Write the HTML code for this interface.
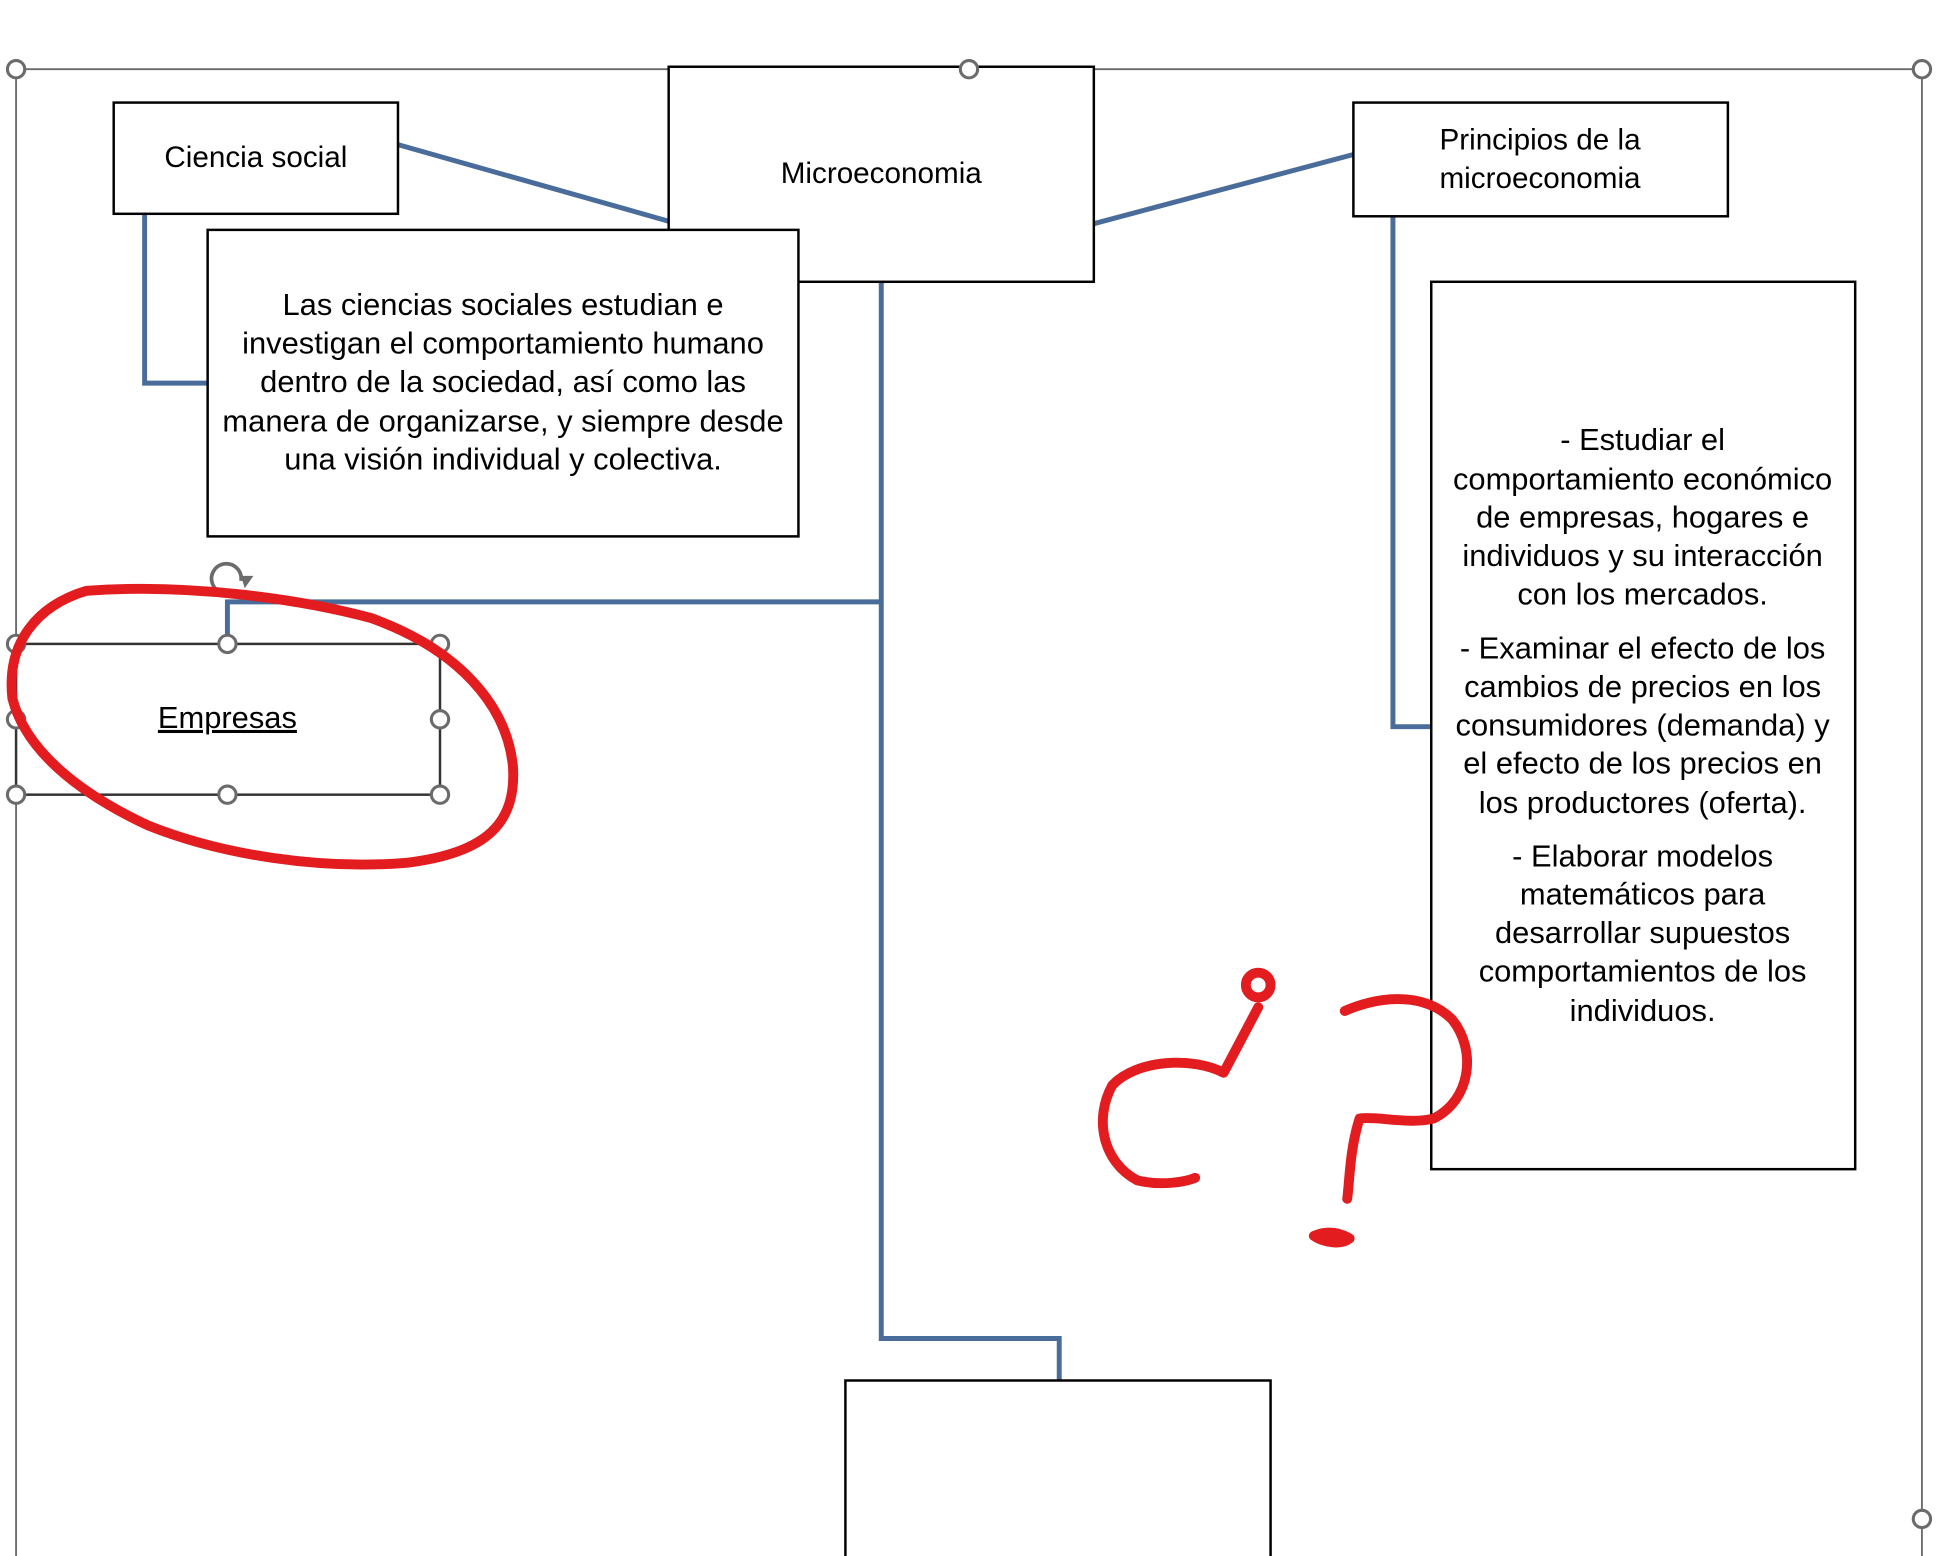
<!DOCTYPE html>
<html><head><meta charset="utf-8"><style>
html,body{margin:0;padding:0;background:#fff;}
svg{display:block;}
text{font-family:"Liberation Sans",sans-serif;font-size:25px;fill:#000;}
text.t{font-size:24px;}
</style></head><body>
<svg width="1938" height="1556" viewBox="0 0 1568 1259" preserveAspectRatio="none" xmlns="http://www.w3.org/2000/svg">
<rect width="1568" height="1259" fill="#fff"/>
<g stroke="#6b6b6b" stroke-width="1.5" fill="none">
<line x1="13" y1="56" x2="1555" y2="56"/>
<line x1="13" y1="56" x2="13" y2="1259"/>
<line x1="1555" y1="56" x2="1555" y2="1259"/>
</g>
<g stroke="#4a6c9b" stroke-width="4" fill="none">
<line x1="322" y1="117" x2="541" y2="179"/>
<line x1="885" y1="181" x2="1095" y2="125"/>
<polyline points="117,173 117,310 168,310"/>
<polyline points="713,228 713,1083 857,1083 857,1117"/>
<polyline points="184,521 184,487 713,487"/>
<polyline points="1127,175 1127,588 1158,588"/>
</g>
<g fill="#fff" stroke="#000" stroke-width="2">
<rect x="92" y="83" width="230" height="90"/>
<rect x="541" y="54" width="344" height="174"/>
<rect x="1095" y="83" width="303" height="92"/>
<rect x="168" y="186" width="478" height="248"/>
<rect x="1158" y="228" width="343" height="718"/>
<rect x="684" y="1117" width="344" height="150"/>
<rect x="13" y="521" width="343" height="122" stroke="#333"/>
</g>
<g text-anchor="middle">
<text class="t" x="207" y="135">Ciencia social</text>
<text class="t" x="713" y="148">Microeconomia</text>
<text class="t" x="1246" y="121">Principios de la</text>
<text class="t" x="1246" y="152">microeconomia</text>
<text x="407" y="255">Las ciencias sociales estudian e</text>
<text x="407" y="286">investigan el comportamiento humano</text>
<text x="407" y="317">dentro de la sociedad, así como las</text>
<text x="407" y="349">manera de organizarse, y siempre desde</text>
<text x="407" y="380">una visión individual y colectiva.</text>
<text x="1329" y="364">- Estudiar el</text>
<text x="1329" y="396">comportamiento económico</text>
<text x="1329" y="427">de empresas, hogares e</text>
<text x="1329" y="458">individuos y su interacción</text>
<text x="1329" y="489">con los mercados.</text>
<text x="1329" y="533">- Examinar el efecto de los</text>
<text x="1329" y="564">cambios de precios en los</text>
<text x="1329" y="595">consumidores (demanda) y</text>
<text x="1329" y="626">el efecto de los precios en</text>
<text x="1329" y="658">los productores (oferta).</text>
<text x="1329" y="701">-  Elaborar modelos</text>
<text x="1329" y="732">matemáticos para</text>
<text x="1329" y="763">desarrollar supuestos</text>
<text x="1329" y="794">comportamientos de los</text>
<text x="1329" y="826">individuos.</text>
<text x="184" y="589" text-decoration="underline">Empresas</text>
</g>
<g fill="#fff" stroke="#6b6b6b" stroke-width="2.5">
<circle cx="13" cy="56" r="7"/><circle cx="784" cy="56" r="7"/><circle cx="1555" cy="56" r="7"/><circle cx="1555" cy="1229" r="7"/>
<circle cx="13" cy="521" r="7"/><circle cx="184" cy="521" r="7"/><circle cx="356" cy="521" r="7"/>
<circle cx="13" cy="582" r="7"/><circle cx="356" cy="582" r="7"/>
<circle cx="13" cy="643" r="7"/><circle cx="184" cy="643" r="7"/><circle cx="356" cy="643" r="7"/>
</g>
<path d="M195,470 A12,12 0 1 0 190,478" stroke="#6b6b6b" stroke-width="3" fill="none"/>
<path d="M195,466 L205,466 L198,476 Z" fill="#6b6b6b"/>
<g stroke="#e21c1f" stroke-width="8" fill="none" stroke-linecap="round" stroke-linejoin="round">
<path d="M70,478 C150,472 240,484 300,500 C370,525 410,570 415,620 C418,665 395,690 330,698 C260,704 180,692 120,668 C60,640 20,605 10,565 C5,520 30,490 70,478 Z"/>
<circle cx="1018" cy="797" r="10"/>
<path d="M1018,815 L990,868 C965,855 920,857 900,878 C885,905 892,940 920,955 C940,960 960,956 967,953"/>
<path d="M1088,818 C1110,808 1150,800 1175,825 C1195,850 1190,890 1160,905 C1140,910 1115,903 1100,905 C1092,930 1092,955 1090,970"/>
<path d="M1063,1000 C1075,995 1085,998 1092,1002 C1085,1008 1070,1005 1063,1000 Z"/>
</g>
</svg>
</body></html>
